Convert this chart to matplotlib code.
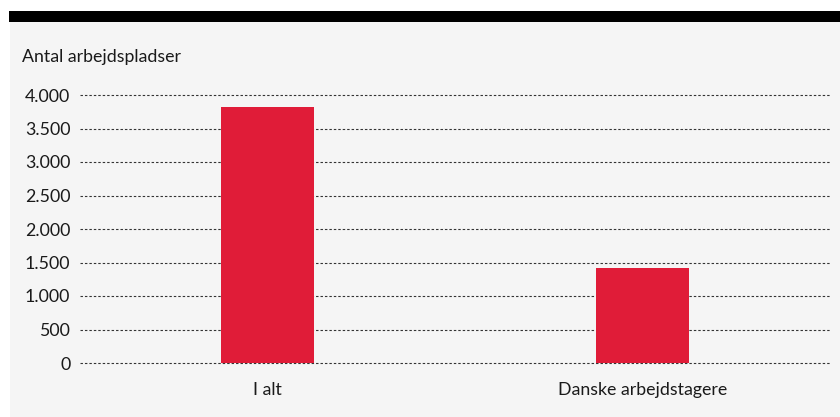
import matplotlib.pyplot as plt
from matplotlib.patches import Rectangle

# data
categories = ["I alt", "Danske arbejdstagere"]
values = [3820, 1420]
yticks = [0, 500, 1000, 1500, 2000, 2500, 3000, 3500, 4000]
ytick_labels = ["0", "500", "1.000", "1.500", "2.000", "2.500", "3.000", "3.500", "4.000"]

plt.rcParams['font.family'] = ['Lato', 'DejaVu Sans']
fs = 12.8

W, H = 840, 417
fig = plt.figure(figsize=(W / 100, H / 100), dpi=100)
fig.patch.set_facecolor("white")

# grey panel and black band on top
fig.patches.append(Rectangle((10 / W, 0), 1, (H - 22) / H, transform=fig.transFigure,
                             facecolor="#f5f5f5", edgecolor="none", zorder=-2))
fig.patches.append(Rectangle((9 / W, (H - 22) / H), 1, 11 / H, transform=fig.transFigure,
                             facecolor="black", edgecolor="none", zorder=-2))

# axes: x 80..830 px, y 0 at 363 px, 4000 at 95 px
ax = fig.add_axes([80 / W, (H - 363) / H, 750 / W, 268 / H])
ax.set_zorder(1)
ax.set_facecolor("none")

x = range(len(categories))
ax.bar(x, values, width=0.25, color="#e01c38", zorder=3)

ax.set_xlim(-0.5, 1.5)
ax.set_ylim(0, 4000)
ax.set_yticks(yticks)
ax.set_yticklabels(ytick_labels)
ax.set_xticks(list(x))
ax.set_xticklabels(categories)
ax.grid(axis="y", linestyle=(0, (2.2, 1.8)), color="#333333", linewidth=0.8, zorder=1)
for gl in ax.get_ygridlines():
    gl.set_clip_on(False)
ax.tick_params(axis="y", length=0, pad=7, labelsize=fs, colors="#1a1a1a")
ax.tick_params(axis="x", length=0, pad=14, labelsize=fs, colors="#1a1a1a")
for s in ax.spines.values():
    s.set_visible(False)

fig.text(22 / W, (H - 57) / H, "Antal arbejdspladser", fontsize=fs, color="#1a1a1a",
         ha="left", va="center", zorder=2)

fig.savefig("out.png", dpi=100, facecolor=fig.get_facecolor())
